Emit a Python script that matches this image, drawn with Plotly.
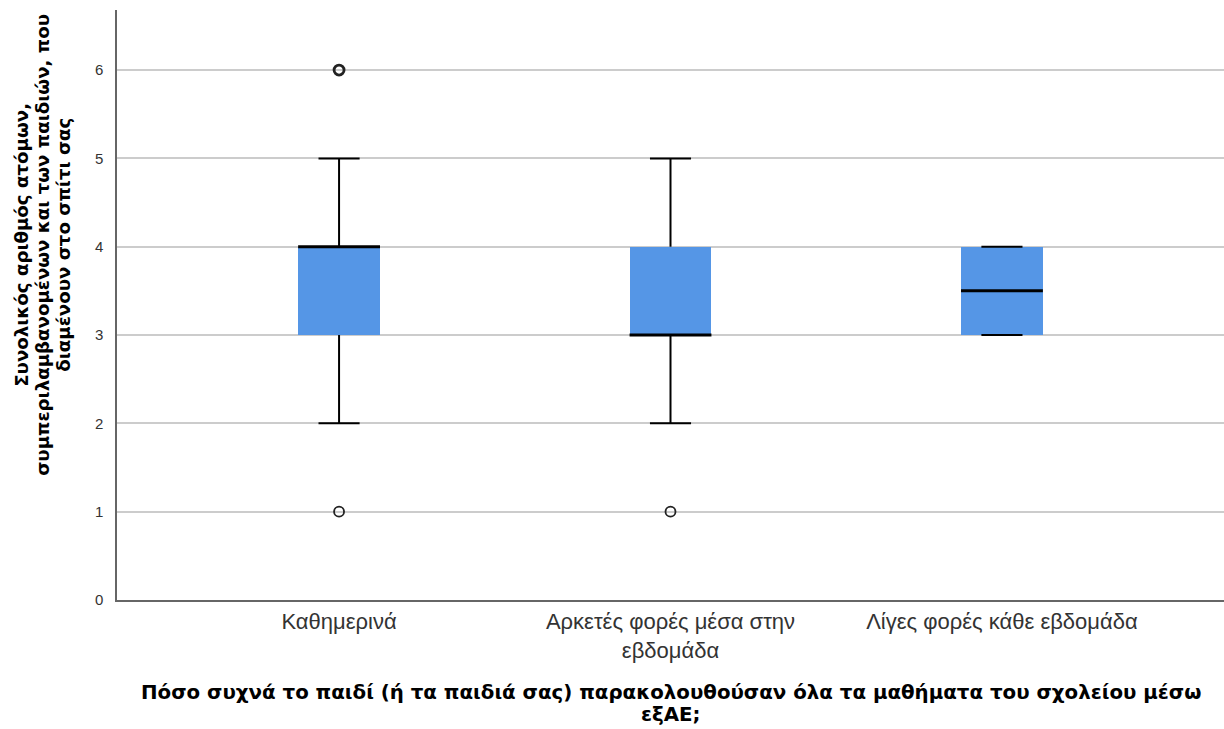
import plotly.graph_objects as go

# Household size by frequency of attending all school lessons remotely
categories = ["Καθημερινά", "Αρκετές φορές μέσα στην<br>εβδομάδα", "Λίγες φορές κάθε εβδομάδα"]
q1 = [3, 3, 3]
median = [4, 3, 3.5]
q3 = [4, 4, 4]
whisker_low = [2, 2, 3]
whisker_high = [5, 5, 4]
outlier_cat = [0, 0, 1]
outlier_val = [1, 6, 1]
outlier_weight = [1.8, 2.8, 1.8]

y_ticks = [0, 1, 2, 3, 4, 5, 6]

y_title_lines = ["Συνολικός αριθμός ατόμων,",
                 "συμπεριλαμβανομένων και των παιδιών, που",
                 "διαμένουν στο σπίτι σας"]
x_title_lines = ["Πόσο συχνά το παιδί (ή τα παιδιά σας) παρακολουθούσαν όλα τα μαθήματα του σχολείου μέσω",
                 "εξΑΕ;"]

BOX_W = 0.247
CAP_W = 0.124
BOX_COLOR = "#5596E6"
FAMILY = "DejaVu Sans, Liberation Sans, sans-serif"

xs = list(range(len(categories)))

fig = go.Figure()

# boxes (Q1..Q3)
fig.add_trace(go.Bar(
    x=xs, y=[b - a for a, b in zip(q1, q3)], base=q1, width=BOX_W,
    marker=dict(color=BOX_COLOR, line=dict(width=0)),
    hoverinfo="skip", showlegend=False,
))

# whisker stems and caps
wx, wy = [], []
for i in xs:
    wx += [i, i, None, i, i, None]
    wy += [q3[i], whisker_high[i], None, q1[i], whisker_low[i], None]
    for v in (whisker_high[i], whisker_low[i]):
        wx += [i - CAP_W / 2, i + CAP_W / 2, None]
        wy += [v, v, None]
fig.add_trace(go.Scatter(
    x=wx, y=wy, mode="lines", line=dict(color="black", width=2),
    hoverinfo="skip", showlegend=False,
))

# medians
mx, my = [], []
for i in xs:
    mx += [i - BOX_W / 2, i + BOX_W / 2, None]
    my += [median[i], median[i], None]
fig.add_trace(go.Scatter(
    x=mx, y=my, mode="lines", line=dict(color="black", width=3),
    hoverinfo="skip", showlegend=False,
))

# outliers
fig.add_trace(go.Scatter(
    x=outlier_cat, y=outlier_val, mode="markers",
    marker=dict(symbol="circle-open", size=10, color="#222222",
                line=dict(width=outlier_weight, color="#222222")),
    hoverinfo="skip", showlegend=False,
))

annotations = []
# vertical axis title, one rotated line each
for line, px in zip(y_title_lines, [22, 43, 64]):
    annotations.append(dict(
        text="<b>" + line + "</b>", xref="paper", yref="paper",
        x=(px - 117) / 1107, y=0.602, xanchor="center", yanchor="middle",
        textangle=-90, showarrow=False,
        font=dict(size=18.2, color="black", family=FAMILY),
    ))
# horizontal axis title
for line, py in zip(x_title_lines, [692, 714]):
    annotations.append(dict(
        text="<b>" + line + "</b>", xref="paper", yref="paper",
        x=0.5, y=(600 - py) / 590, xanchor="center", yanchor="middle",
        showarrow=False,
        font=dict(size=19.8, color="black", family=FAMILY),
    ))

fig.update_layout(
    width=1224, height=729,
    margin=dict(l=117, r=0, t=10, b=129),
    paper_bgcolor="white", plot_bgcolor="white",
    font=dict(family="Liberation Sans, Arial, sans-serif", color="#222222"),
    bargap=0,
    xaxis=dict(
        range=[-0.67, 2.67], tickvals=xs, ticktext=categories,
        showgrid=False, zeroline=False, showline=True,
        linecolor="#666666", linewidth=1.5, ticks="",
        tickfont=dict(family="Liberation Sans, Arial, sans-serif",
                      size=22, color="#333333"),
        ticklabelstandoff=1,
    ),
    yaxis=dict(
        range=[0, 6.68], tickvals=y_ticks,
        showgrid=True, gridcolor="#cccccc", gridwidth=1.5,
        zeroline=False, showline=True, linecolor="#666666", linewidth=1.5,
        ticks="", tickfont=dict(size=15, color="#333333"),
        ticklabelstandoff=9,
    ),
    annotations=annotations,
)

fig.write_html("out.html")
